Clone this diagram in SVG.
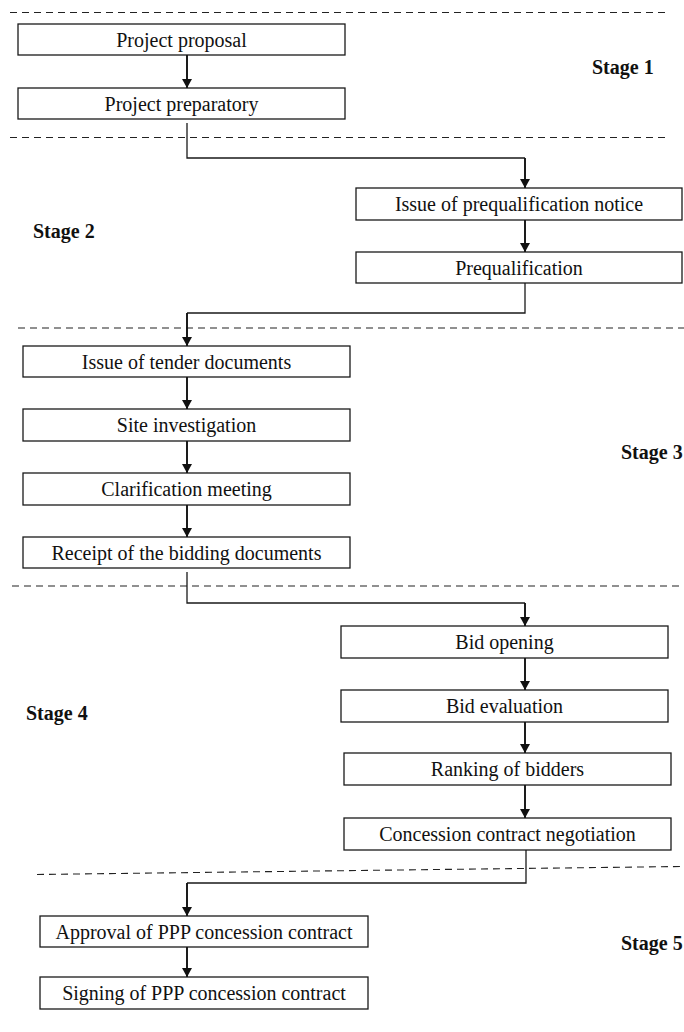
<svg xmlns="http://www.w3.org/2000/svg" width="684" height="1032" viewBox="0 0 684 1032">
<style>
  .box { fill: #ffffff; stroke: #1a1a1a; stroke-width: 1.3; }
  .lbl { font-family: "Liberation Serif", "Times New Roman", serif; font-size: 20px; fill: #111; text-anchor: middle; }
  .stage { font-family: "Liberation Serif", "Times New Roman", serif; font-size: 20px; font-weight: bold; fill: #111; }
  .dash { stroke: #222; stroke-width: 1.1; stroke-dasharray: 7 5; fill: none; }
  .line { stroke: #1a1a1a; stroke-width: 1.3; fill: none; }
  .arr { stroke: #111; stroke-width: 1.9; fill: none; marker-end: url(#ah); }
</style>
<defs>
  <marker id="ah" markerUnits="userSpaceOnUse" viewBox="0 0 9 10" refX="9" refY="5" markerWidth="9" markerHeight="10" orient="auto">
    <path d="M0,0 L9,5 L0,10 z" fill="#111"/>
  </marker>
</defs>
<rect width="684" height="1032" fill="#ffffff"/>

<g id="separators">
  <line class="dash" x1="10" y1="12.5" x2="670" y2="12.5"/>
  <line class="dash" x1="10" y1="137.5" x2="670" y2="137.5"/>
  <line class="dash" x1="18" y1="328" x2="684" y2="328"/>
  <line class="dash" x1="12" y1="586" x2="684" y2="586"/>
  <line class="dash" x1="37" y1="874.5" x2="680" y2="866.5"/>
</g>

<g id="stage-labels">
  <text class="stage" x="592" y="74">Stage 1</text>
  <text class="stage" x="33" y="238">Stage 2</text>
  <text class="stage" x="621" y="459">Stage 3</text>
  <text class="stage" x="26" y="720">Stage 4</text>
  <text class="stage" x="621" y="950">Stage 5</text>
</g>

<g id="connectors">
  <line class="arr" x1="187" y1="55" x2="187" y2="88"/>
  <polyline class="line" points="187,123 187,158 525,158"/>
  <line class="arr" x1="525" y1="158" x2="525" y2="188"/>
  <line class="arr" x1="525" y1="220" x2="525" y2="252"/>
  <polyline class="line" points="525,283 525,313 187,313"/>
  <line class="arr" x1="187" y1="313" x2="187" y2="346"/>
  <line class="arr" x1="187" y1="377" x2="187" y2="409"/>
  <line class="arr" x1="187" y1="441" x2="187" y2="473"/>
  <line class="arr" x1="187" y1="505" x2="187" y2="537"/>
  <polyline class="line" points="187,572 187,603 525,603"/>
  <line class="arr" x1="525" y1="603" x2="525" y2="626"/>
  <line class="arr" x1="525" y1="658" x2="525" y2="690"/>
  <line class="arr" x1="525" y1="722" x2="525" y2="753"/>
  <line class="arr" x1="525" y1="785" x2="525" y2="818"/>
  <polyline class="line" points="526,850 526,883 187,883"/>
  <line class="arr" x1="187" y1="883" x2="187" y2="916"/>
  <line class="arr" x1="187" y1="947" x2="187" y2="977"/>
</g>

<g id="n1"><rect class="box" x="18" y="24" width="327" height="31"/><text class="lbl" x="181.5" y="46.5">Project proposal</text></g>
<g id="n2"><rect class="box" x="18" y="88" width="327" height="31"/><text class="lbl" x="181.5" y="110.5">Project preparatory</text></g>
<g id="n3"><rect class="box" x="356" y="188" width="326" height="32"/><text class="lbl" x="519" y="211">Issue of prequalification notice</text></g>
<g id="n4"><rect class="box" x="356" y="252" width="326" height="31"/><text class="lbl" x="519" y="274.5">Prequalification</text></g>
<g id="n5"><rect class="box" x="23" y="346" width="327" height="31"/><text class="lbl" x="186.5" y="368.5">Issue of tender documents</text></g>
<g id="n6"><rect class="box" x="23" y="409" width="327" height="32"/><text class="lbl" x="186.5" y="432">Site investigation</text></g>
<g id="n7"><rect class="box" x="23" y="473" width="327" height="32"/><text class="lbl" x="186.5" y="496">Clarification meeting</text></g>
<g id="n8"><rect class="box" x="23" y="537" width="327" height="31"/><text class="lbl" x="186.5" y="559.5">Receipt of the bidding documents</text></g>
<g id="n9"><rect class="box" x="341" y="626" width="327" height="32"/><text class="lbl" x="504.5" y="649">Bid opening</text></g>
<g id="n10"><rect class="box" x="341" y="690" width="327" height="32"/><text class="lbl" x="504.5" y="713">Bid evaluation</text></g>
<g id="n11"><rect class="box" x="344" y="753" width="327" height="32"/><text class="lbl" x="507.5" y="776">Ranking of bidders</text></g>
<g id="n12"><rect class="box" x="344" y="818" width="327" height="32"/><text class="lbl" x="507.5" y="841">Concession contract negotiation</text></g>
<g id="n13"><rect class="box" x="40" y="916" width="328" height="31"/><text class="lbl" x="204" y="938.5">Approval of PPP concession contract</text></g>
<g id="n14"><rect class="box" x="40" y="977" width="328" height="32"/><text class="lbl" x="204" y="1000">Signing of PPP concession contract</text></g>
</svg>
